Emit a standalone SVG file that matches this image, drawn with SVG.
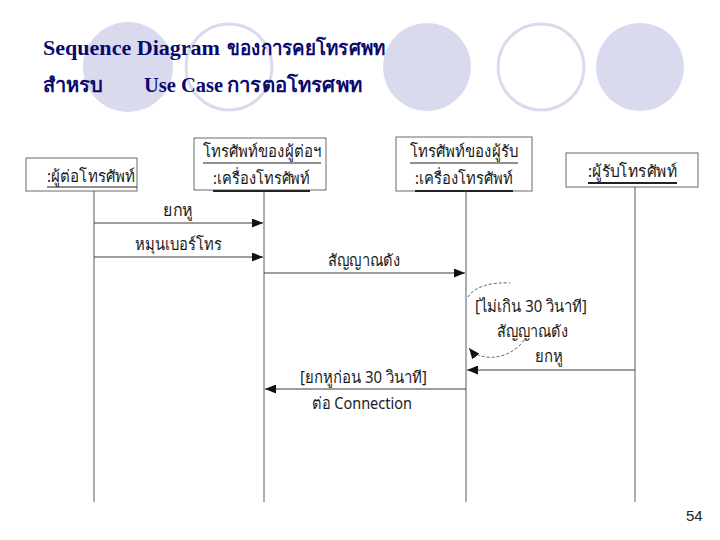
<svg xmlns="http://www.w3.org/2000/svg" width="720" height="540" viewBox="0 0 720 540">
<defs>
<style>
.bg{fill:#ffffff}
.dot{fill:#dadaee}
.ring{fill:none;stroke:#dadaee;stroke-width:3}
.title{font-family:"Liberation Serif","Noto Serif","DejaVu Serif",serif;font-weight:bold;font-size:20px;fill:#0a0a6e}
.box{fill:#ffffff;stroke:#6a6a6a;stroke-width:1}
.life{stroke:#5a5a5a;stroke-width:1;fill:none}
.ul{stroke:#222;stroke-width:1.2}
.ulb{stroke:#222;stroke-width:2}
.lbl{font-family:"Noto Sans","DejaVu Sans","Liberation Sans",sans-serif;font-size:16.5px;fill:#1a1a1a}
.msg{stroke:#3a3a3a;stroke-width:1;fill:none}
.loop{stroke:#555;stroke-width:0.9;fill:none;stroke-dasharray:3 2}
.pg{font-family:"Liberation Sans",Arial,sans-serif;font-size:15px;fill:#222}
</style>
<marker id="ah" viewBox="0 0 11 9" refX="11" refY="4.5" markerWidth="11" markerHeight="9" markerUnits="userSpaceOnUse" orient="auto">
<path d="M0,0 L11,4.5 L0,9 Z" fill="#111"/>
</marker>
</defs>
<rect class="bg" x="0" y="0" width="720" height="540"/>
<g id="decor">
<circle class="dot" cx="128" cy="67" r="45"/>
<circle class="ring" cx="229" cy="67" r="43"/>
<circle class="dot" cx="427" cy="67" r="44"/>
<circle class="ring" cx="541" cy="67" r="43"/>
<circle class="dot" cx="640" cy="67" r="44"/>
</g>
<g id="title">
<text class="title" x="43" y="55"><tspan textLength="177" lengthAdjust="spacingAndGlyphs">Sequence Diagram</tspan><tspan x="227" textLength="158" lengthAdjust="spacingAndGlyphs">ของการคยโทรศพท</tspan></text>
<text class="title" x="43" y="92"><tspan textLength="60" lengthAdjust="spacingAndGlyphs">สำหรบ</tspan><tspan x="144" textLength="79" lengthAdjust="spacingAndGlyphs">Use Case</tspan><tspan x="227" textLength="135" lengthAdjust="spacingAndGlyphs">การตอโทรศพท</tspan></text>
</g>
<g id="caller">
<rect class="box" x="26" y="158" width="111" height="33"/>
<text class="lbl" x="47" y="182" textLength="88" lengthAdjust="spacingAndGlyphs">:ผู้ต่อโทรศัพท์</text>
<line class="ul" x1="47" y1="187" x2="137" y2="187"/>
<line class="life" x1="94" y1="191" x2="94" y2="502"/>
</g>
<g id="callerPhone">
<rect class="box" x="194" y="138" width="132" height="52"/>
<text class="lbl" x="203" y="157" textLength="118" lengthAdjust="spacingAndGlyphs">โทรศัพท์ของผู้ต่อฯ</text>
<line class="ul" x1="203" y1="163" x2="321" y2="163"/>
<text class="lbl" x="213" y="184" textLength="97" lengthAdjust="spacingAndGlyphs">:เครื่องโทรศัพท์</text>
<line class="ulb" x1="213" y1="191" x2="310" y2="191"/>
<line class="life" x1="264" y1="191" x2="264" y2="502"/>
</g>
<g id="receiverPhone">
<rect class="box" x="396" y="137" width="136" height="54"/>
<text class="lbl" x="410" y="157" textLength="108" lengthAdjust="spacingAndGlyphs">โทรศัพท์ของผู้รับ</text>
<line class="ul" x1="410" y1="163" x2="518" y2="163"/>
<text class="lbl" x="415" y="184" textLength="98" lengthAdjust="spacingAndGlyphs">:เครื่องโทรศัพท์</text>
<line class="ulb" x1="415" y1="191" x2="513" y2="191"/>
<line class="life" x1="466" y1="191" x2="466" y2="502"/>
</g>
<g id="receiver">
<rect class="box" x="566" y="153" width="132" height="34"/>
<text class="lbl" x="588" y="177" textLength="89" lengthAdjust="spacingAndGlyphs">:ผู้รับโทรศัพท์</text>
<line class="ulb" x1="588" y1="183" x2="677" y2="183"/>
<line class="life" x1="635" y1="187" x2="635" y2="502"/>
</g>
<g id="connectors">
<line class="msg" x1="94" y1="223" x2="263" y2="223" marker-end="url(#ah)"/>
<text class="lbl" x="163" y="216" textLength="30" lengthAdjust="spacingAndGlyphs">ยกหู</text>
<line class="msg" x1="94" y1="257" x2="263" y2="257" marker-end="url(#ah)"/>
<text class="lbl" x="135" y="250" textLength="87" lengthAdjust="spacingAndGlyphs">หมุนเบอร์โทร</text>
<line class="msg" x1="264" y1="273" x2="465" y2="273" marker-end="url(#ah)"/>
<text class="lbl" x="328" y="266" textLength="72" lengthAdjust="spacingAndGlyphs">สัญญาณดัง</text>
<path class="loop" d="M468,297 C474,287 490,282 510,283"/>
<path class="loop" d="M524,340 C516,352 500,359 486,357 C478,356 473,353 469,348" marker-end="url(#ah)"/>
<text class="lbl" x="475" y="312" textLength="112" lengthAdjust="spacingAndGlyphs">[ไม่เกิน 30 วินาที]</text>
<text class="lbl" x="497" y="337" textLength="71" lengthAdjust="spacingAndGlyphs">สัญญาณดัง</text>
<line class="msg" x1="635" y1="370" x2="467" y2="370" marker-end="url(#ah)"/>
<text class="lbl" x="535" y="362" textLength="28" lengthAdjust="spacingAndGlyphs">ยกหู</text>
<line class="msg" x1="466" y1="389" x2="265" y2="389" marker-end="url(#ah)"/>
<text class="lbl" x="300" y="383" textLength="127" lengthAdjust="spacingAndGlyphs">[ยกหูก่อน 30 วินาที]</text>
<text class="lbl" x="312" y="409" textLength="100" lengthAdjust="spacingAndGlyphs">ต่อ Connection</text>
</g>
<text class="pg" x="686" y="521">54</text>
</svg>
